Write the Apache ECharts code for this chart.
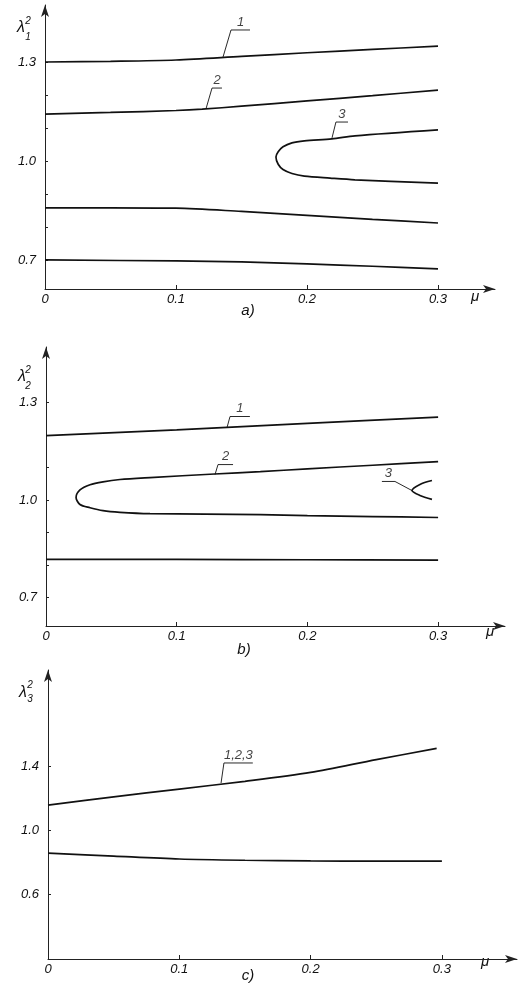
<!DOCTYPE html>
<html><head><meta charset="utf-8">
<script src="https://cdn.jsdelivr.net/npm/echarts@6/dist/echarts.min.js"></script>
<style>html,body{margin:0;padding:0;background:#fff}#c{width:521px;height:986px}</style>
</head><body><div id="c"></div>
<script>
// ---- tick values ----
const muTicks = [0, 0.1, 0.2, 0.3];
const aYTicks = [0.7, 0.8, 0.9, 1.0, 1.1, 1.2, 1.3];
const aYLabels = [0.7, 1.0, 1.3];
const bYTicks = [0.7, 0.8, 0.9, 1.0, 1.1, 1.2, 1.3];
const bYLabels = [0.7, 1.0, 1.3];
const cYTicks = [0.6, 1.0, 1.4];
const cYLabels = [0.6, 1.0, 1.4];

// ---- panel a) lambda_1^2 vs mu ----
const aCurve1 = [[0,1.300],[0.05,1.302],[0.1,1.306],[0.15,1.317],[0.2,1.328],[0.25,1.338],[0.3,1.348]];
const aCurve2 = [[0,1.142],[0.05,1.147],[0.1,1.153],[0.12,1.157],[0.15,1.166],[0.2,1.182],[0.25,1.198],[0.3,1.215]];
const aCurve3 = [[0.300,1.094],[0.2366,1.076],[0.219,1.067],[0.198,1.061],[0.1885,1.055],[0.1817,1.043],[0.178,1.028],[0.1763,1.012],[0.178,0.990],[0.1817,0.974],[0.1885,0.962],[0.198,0.954],[0.2176,0.948],[0.2366,0.943],[0.300,0.933]];
const aCurve4 = [[0,0.858],[0.05,0.858],[0.1,0.857],[0.15,0.847],[0.2,0.835],[0.25,0.823],[0.3,0.812]];
const aCurve5 = [[0,0.700],[0.1,0.697],[0.15,0.694],[0.2,0.688],[0.25,0.681],[0.3,0.673]];
const aLeader1 = [[0.1359,1.315],[0.142,1.397],[0.1565,1.397]];
const aLeader2 = [[0.1229,1.158],[0.1275,1.221],[0.1351,1.221]];
const aLeader3 = [[0.2191,1.070],[0.2221,1.118],[0.2313,1.118]];

// ---- panel b) lambda_2^2 vs mu ----
const bCurve1 = [[0,1.198],[0.1,1.216],[0.2,1.236],[0.3,1.255]];
const bCurve2 = [[0.3,1.118],[0.25,1.107],[0.2,1.096],[0.164,1.087],[0.129,1.080],[0.0796,1.069],[0.0566,1.063],[0.0436,1.056],[0.0337,1.047],[0.026,1.031],[0.023,1.008],[0.026,0.986],[0.0337,0.976],[0.0436,0.967],[0.0566,0.962],[0.0796,0.958],[0.164,0.955],[0.2,0.952],[0.25,0.949],[0.3,0.946]];
const bCurve3 = [[0.2953,1.060],[0.2861,1.048],[0.280,1.029],[0.2861,1.014],[0.2953,1.002]];
const bCurve4 = [[0,0.817],[0.1,0.817],[0.2,0.816],[0.3,0.815]];
const bLeader1 = [[0.1385,1.223],[0.1408,1.257],[0.156,1.257]];
const bLeader2 = [[0.1293,1.078],[0.1316,1.109],[0.1431,1.109]];
const bLeader3 = [[0.280,1.029],[0.267,1.057],[0.257,1.057]];

// ---- panel c) lambda_3^2 vs mu ----
const cCurve1 = [[0,1.156],[0.05,1.207],[0.1,1.256],[0.15,1.304],[0.2,1.360],[0.25,1.440],[0.296,1.510]];
const cCurve2 = [[0,0.856],[0.05,0.837],[0.1,0.819],[0.15,0.811],[0.2,0.807],[0.25,0.806],[0.3,0.806]];
const cLeader = [[0.1318,1.294],[0.134,1.419],[0.156,1.419]];

const FONT = 'Liberation Sans';
const INK = '#111';

function xAx(gi, max) {
  return {
    type: 'value', gridIndex: gi, min: 0, max: max,
    axisLine: {show: true, onZero: false, symbol: ['none', 'arrow'], symbolSize: [6, 12],
      lineStyle: {color: '#222', width: 1}},
    axisTick: {show: true, inside: true, length: 4, customValues: muTicks.slice(1), lineStyle: {color: '#222'}},
    axisLabel: {customValues: muTicks, margin: 4, color: INK, fontSize: 13, fontStyle: 'italic', fontFamily: FONT,
      formatter: v => v === 0 ? '0' : v.toFixed(1)},
    splitLine: {show: false}
  };
}
function yAx(gi, min, max, ticks, labels) {
  return {
    type: 'value', gridIndex: gi, min: min, max: max,
    axisLine: {show: true, onZero: false, symbol: ['none', 'arrow'], symbolSize: [6, 12],
      lineStyle: {color: '#222', width: 1}},
    axisTick: {show: true, inside: true, length: 3, customValues: ticks, lineStyle: {color: '#222'}},
    axisLabel: {customValues: labels, margin: 9, color: INK, fontSize: 13, fontStyle: 'italic', fontFamily: FONT,
      formatter: v => v.toFixed(1)},
    splitLine: {show: false}
  };
}
function curve(data, i) {
  return {type: 'line', xAxisIndex: i, yAxisIndex: i, data: data, symbol: 'none', showSymbol: false,
    smooth: 0.3, lineStyle: {color: INK, width: 1.7}, silent: true, animation: false, clip: false};
}
function leader(data, i, text) {
  const mid = [(data[1][0] + data[2][0]) / 2, data[1][1]];
  return [
    {type: 'line', xAxisIndex: i, yAxisIndex: i, data: data, symbol: 'none', showSymbol: false,
      lineStyle: {color: INK, width: 0.9}, silent: true, animation: false},
    {type: 'scatter', xAxisIndex: i, yAxisIndex: i, data: [mid], symbolSize: 1,
      itemStyle: {color: 'rgba(0,0,0,0)'},
      silent: true, animation: false,
      label: {show: true, position: 'top', distance: 1, formatter: text, color: INK, fontSize: 13,
        fontStyle: 'italic', fontFamily: FONT}}
  ];
}
function txt(x, y, text, size) {
  return {type: 'text', x: x, y: y, silent: true,
    style: {text: text, fontSize: size, fontStyle: 'italic', fontFamily: FONT, fill: INK, align: 'center', verticalAlign: 'middle'}};
}

const chart = echarts.init(document.getElementById('c'), null, {renderer: 'canvas'});
chart.setOption({
  animation: false,
  backgroundColor: '#fff',
  grid: [
    {left: 45, top: 5, width: 450, height: 284},
    {left: 46, top: 347, width: 459, height: 279},
    {left: 48, top: 670, width: 469, height: 289}
  ],
  xAxis: [xAx(0, 450 / 1310), xAx(1, 459 / 1307), xAx(2, 469 / 1313)],
  yAxis: [
    yAx(0, 0.612, 1.4727, aYTicks, aYLabels),
    yAx(1, 0.612, 1.471, bYTicks, bYLabels),
    yAx(2, 0.194, 2.0, cYTicks, cYLabels)
  ],
  series: [
    curve(aCurve1, 0), curve(aCurve2, 0), curve(aCurve3, 0), curve(aCurve4, 0), curve(aCurve5, 0),
    ...leader(aLeader1, 0, '1'), ...leader(aLeader2, 0, '2'), ...leader(aLeader3, 0, '3'),
    curve(bCurve1, 1), curve(bCurve2, 1), curve(bCurve3, 1), curve(bCurve4, 1),
    ...leader(bLeader1, 1, '1'), ...leader(bLeader2, 1, '2'), ...leader(bLeader3, 1, '3'),
    curve(cCurve1, 2), curve(cCurve2, 2),
    ...leader(cLeader, 2, '1,2,3')
  ],
  graphic: [
    txt(21, 28, 'λ', 16), txt(28, 21, '2', 10), txt(28, 37, '1', 10),
    txt(22, 377, 'λ', 16), txt(28, 370, '2', 10), txt(28, 386, '2', 10),
    txt(23, 693, 'λ', 16), txt(30, 685, '2', 10), txt(30, 699, '3', 10),
    txt(475, 297, 'μ', 15), txt(490, 632, 'μ', 15), txt(485, 962, 'μ', 15),
    txt(248, 311, 'a)', 15), txt(244, 650, 'b)', 15), txt(248, 976, 'c)', 15)
  ]
});
</script>
</body></html>
